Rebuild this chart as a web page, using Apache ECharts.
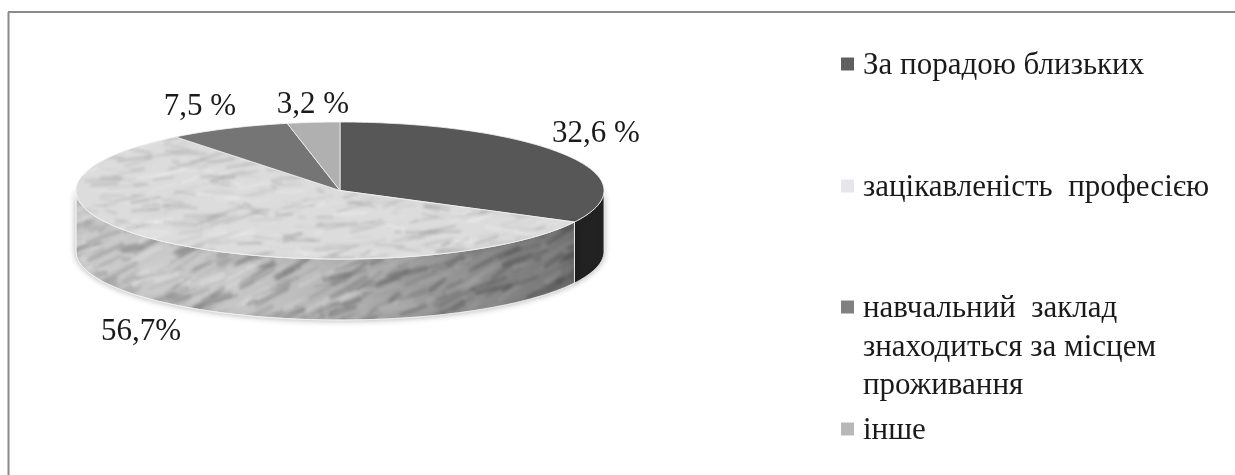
<!DOCTYPE html>
<html><head><meta charset="utf-8">
<style>html,body{margin:0;padding:0;background:#fff}#c{width:1235px;height:475px;filter:blur(.45px)}</style>
<script src="https://cdn.jsdelivr.net/npm/echarts@6/dist/echarts.min.js"></script>
</head><body><div id="c"></div>
<script>
const categories = ['За порадою близьких','зацікавленість  професією','навчальний  заклад\nзнаходиться за місцем\nпроживання','інше'];
const values = [32.6,56.7,7.5,3.2];
const valueLabels = ['32,6 %','56,7%','7,5 %','3,2 %'];
const FONT = '"Liberation Serif","Times New Roman",serif';

// decorative marble texture (style only, no data); tile is larger than the pie so no seam shows
function marble(base, vein, light, slope, maxW, alpha){
  const W=700,H=420;
  const cv=document.createElement('canvas');cv.width=W;cv.height=H;
  const g=cv.getContext('2d');g.fillStyle=base;g.fillRect(0,0,W,H);
  g.lineCap='round';g.filter='blur(1.6px)';
  for(let i=0;i<2600;i++){
    const x=(i*97.3+Math.sin(i*1.7)*60)%W, y=(i*41.9+Math.cos(i*0.9)*25)%H;
    const l=4+Math.abs(Math.sin(i*2.3))*30, dy=-l*(slope+Math.sin(i*0.37)*.2)+Math.sin(i*3.1)*3;
    g.strokeStyle=i%3!==0?vein:light;
    g.globalAlpha=alpha*(.2+Math.abs(Math.sin(i*1.3))*.8);
    g.lineWidth=.8+Math.abs(Math.cos(i*0.7))*maxW;
    g.beginPath();g.moveTo(x,y);g.lineTo(x+l,y+dy);g.stroke();
  }
  return cv;
}
const topMarble=marble('#dcdcdc','#979797','#f4f4f4',.1,2,.4);
const sideMarble=marble('#c4c4c4','#767676','#e8e8e8',.45,5,.4);

const fills=[
 {top:'#575757',side:'#222222'},
 {top:{image:topMarble,repeat:'repeat'},side:{image:sideMarble,repeat:'repeat'},shade:true},
 {top:'#757575',side:'#444444'},
 {top:'#b0b0b0',side:'#777777'}
];
const swatches=['#5f5f5f','#e6e6ec','#808080','#b8b8b8'];
const total=values.reduce((a,b)=>a+b,0);
const Pie={cx:340,cy:190.5,rx:264,ry:68.5,depth:61};
// label placement around the pie
const labelAt=[[596,134],[141,332],[200,107],[313,105]];
const pt=(deg,dy=0)=>{const a=deg*Math.PI/180;return [Pie.cx+Pie.rx*Math.sin(a),Pie.cy-Pie.ry*Math.cos(a)+dy];};
function arc(a,b,dy){const p=[];const n=Math.max(2,Math.ceil((b-a)/1.5));for(let i=0;i<=n;i++)p.push(pt(a+(b-a)*i/n,dy));return p;}

function renderItem(params,api){
  const i=params.dataIndex;
  let before=0;for(let k=0;k<i;k++)before+=values[k];
  const a=before/total*360, b=(before+api.value(0))/total*360;
  const kids=[];
  const sa=Math.max(a,90), sb=Math.min(b,270);
  if(sb>sa){
    const front=arc(sa,sb,0);
    const back=arc(sa,sb,Pie.depth).reverse();
    const pts=front.concat(back);
    kids.push({type:'polygon',shape:{points:pts},style:{fill:fills[i].side,stroke:'#f2f2f2',lineWidth:.8,shadowBlur:6,shadowColor:'rgba(0,0,0,.3)'}});
    if(fills[i].shade){
      kids.push({type:'polygon',shape:{points:pts},style:{fill:{type:'linear',x:0,y:0,x2:1,y2:0,colorStops:[
        {offset:0,color:'rgba(255,255,255,.12)'},{offset:.3,color:'rgba(255,255,255,.05)'},
        {offset:.55,color:'rgba(0,0,0,.1)'},{offset:1,color:'rgba(0,0,0,.42)'}],global:false},stroke:'#f2f2f2',lineWidth:.8}});
    }
  }
  kids.push({type:'polygon',shape:{points:[[Pie.cx,Pie.cy]].concat(arc(a,b,0))},style:{fill:fills[i].top,stroke:'#f2f2f2',lineWidth:.8,lineJoin:'round'}});
  kids.push({type:'text',z2:10,style:{text:valueLabels[i],x:labelAt[i][0],y:labelAt[i][1],align:'center',verticalAlign:'middle',font:'31px '+FONT,fill:'#1a1a1a'}});
  return {type:'group',children:kids};
}

const legendRows=[[64,0],[186,1],[307,2],[429,3]];
const legendGraphics=[];
legendRows.forEach(([y,i])=>{
  legendGraphics.push({type:'rect',shape:{x:841,y:y-6.5,width:13,height:13},style:{fill:swatches[i]}});
  legendGraphics.push({type:'text',style:{text:categories[i],x:863,y:y-17,align:'left',verticalAlign:'top',font:'31px '+FONT,lineHeight:38.5,fill:'#1a1a1a'}});
});
legendGraphics.push({type:'line',shape:{x1:8.5,y1:12,x2:8.5,y2:475},style:{stroke:'#8a8a8a',lineWidth:2}});
legendGraphics.push({type:'line',shape:{x1:8,y1:12,x2:1235,y2:12},style:{stroke:'#8a8a8a',lineWidth:2}});

echarts.init(document.getElementById('c'),null,{renderer:'canvas'}).setOption({
  animation:false,backgroundColor:'#fff',
  graphic:{elements:legendGraphics},
  series:[{type:'custom',coordinateSystem:'none',renderItem,clip:false,
    data:values.map((v,i)=>({name:categories[i],value:[v]}))}]
});
</script></body></html>
